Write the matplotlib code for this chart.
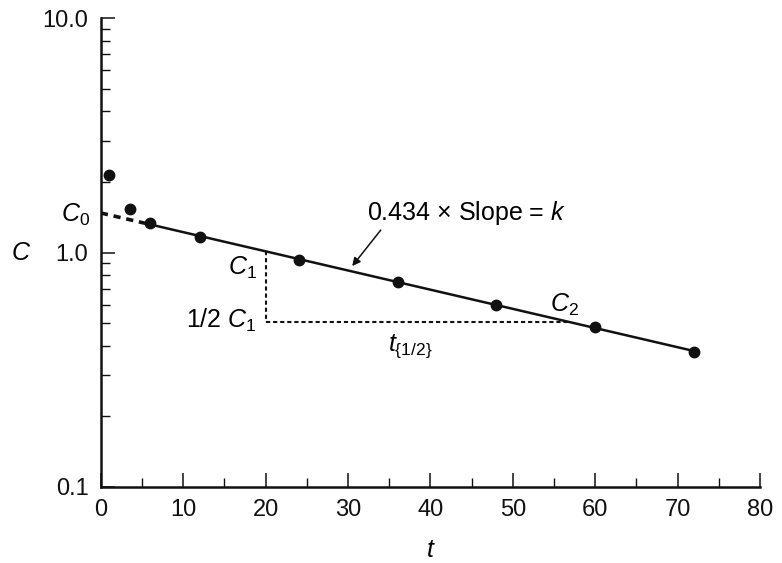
import numpy as np
import matplotlib
matplotlib.use('Agg')
import matplotlib.pyplot as plt

plt.rcParams['font.family'] = ['Liberation Sans', 'DejaVu Sans']
plt.rcParams['mathtext.fontset'] = 'custom'
plt.rcParams['mathtext.rm'] = 'Liberation Sans'
plt.rcParams['mathtext.it'] = 'Liberation Sans:italic'

# measured concentrations
t_obs = [1, 3.5, 6, 12, 24, 36, 48, 60, 72]
c_obs = [2.15, 1.54, 1.33, 1.17, 0.93, 0.745, 0.60, 0.48, 0.378]

# terminal phase used for the straight line
fit_start = 6
fit_end = 72
t_half_from = 20

x_ticks = [0, 10, 20, 30, 40, 50, 60, 70, 80]
y_ticks = [0.1, 1.0, 10.0]
y_tick_labels = ['0.1', '1.0', '10.0']

t = np.array(t_obs)
c = np.array(c_obs)
mask = t >= fit_start
slope, icpt = np.polyfit(t[mask], np.log10(c[mask]), 1)
line = lambda x: 10 ** (icpt + slope * np.asarray(x))

fig = plt.figure(figsize=(7.82, 5.63), dpi=100)
ax = fig.add_axes([0.129, 0.135, 0.843, 0.833])

ax.plot(t, c, 'o', color='#111111', ms=7.5, zorder=3)
ax.plot([fit_start, fit_end], line([fit_start, fit_end]), color='#111111', lw=1.8)
ax.plot([0, fit_start], line([0, fit_start]), color='#111111', lw=2.6,
        linestyle=(0, (2, 1.6)))

# half-life construction
c1 = line(t_half_from)
t2 = fit_start + (np.log10(c1 / 2) - np.log10(line(fit_start))) / slope
ax.plot([t_half_from, t_half_from], [c1, c1 / 2], color='#111111', lw=1.5,
        linestyle=(0, (2, 1.4)))
ax.plot([t_half_from, t2], [c1 / 2, c1 / 2], color='#111111', lw=1.5,
        linestyle=(0, (2, 1.4)))

ax.set_yscale('log')
ax.set_xlim(0, 80)
ax.set_ylim(0.1, 10)
ax.set_xticks(x_ticks)
ax.set_xticks(np.arange(5, 80, 10), minor=True)
ax.set_yticks(y_ticks)
ax.set_yticklabels(y_tick_labels)
ax.set_xticklabels([str(v) for v in x_ticks])

for side in ['top', 'right']:
    ax.spines[side].set_visible(False)
for side in ['left', 'bottom']:
    ax.spines[side].set_linewidth(1.8)
    ax.spines[side].set_color('#111111')

ax.tick_params(which='major', direction='in', length=10, width=1.1,
               labelsize=17, colors='#111111', pad=9)
ax.tick_params(which='minor', direction='in', length=6.5, width=1.0,
               colors='#111111')
ax.tick_params(axis='y', which='minor', labelleft=False)

fs = 18
ax.set_xlabel('t', fontsize=fs, fontstyle='italic', labelpad=12)
ax.text(-9.7, 1.0, 'C', fontsize=fs, fontstyle='italic', ha='center', va='center')

ax.text(-1.3, 1.45, r'$C_{\mathit{0}}$', fontsize=fs, ha='right', va='center')
ax.text(18.9, 0.86, r'$C_\mathrm{1}$', fontsize=fs, ha='right', va='center')
ax.text(18.9, 0.515, r'1/2 $C_\mathrm{1}$', fontsize=fs, ha='right', va='center')
ax.text(37.6, 0.40, r'$t_{\{\mathrm{1/2}\}}$', fontsize=fs, ha='center', va='center')
ax.text(56.2, 0.60, r'$C_\mathrm{2}$', fontsize=fs, ha='center', va='center')

ax.annotate(r'0.434 $\times$ Slope = $k$', xy=(30.5, 0.875), xytext=(32.3, 1.47),
            fontsize=fs, ha='left', va='center',
            arrowprops=dict(arrowstyle='-|>', color='#111111', lw=1.1,
                            shrinkA=0, shrinkB=0, mutation_scale=12,
                            relpos=(0.08, 0.0)))

fig.savefig('out.png', dpi=100)
